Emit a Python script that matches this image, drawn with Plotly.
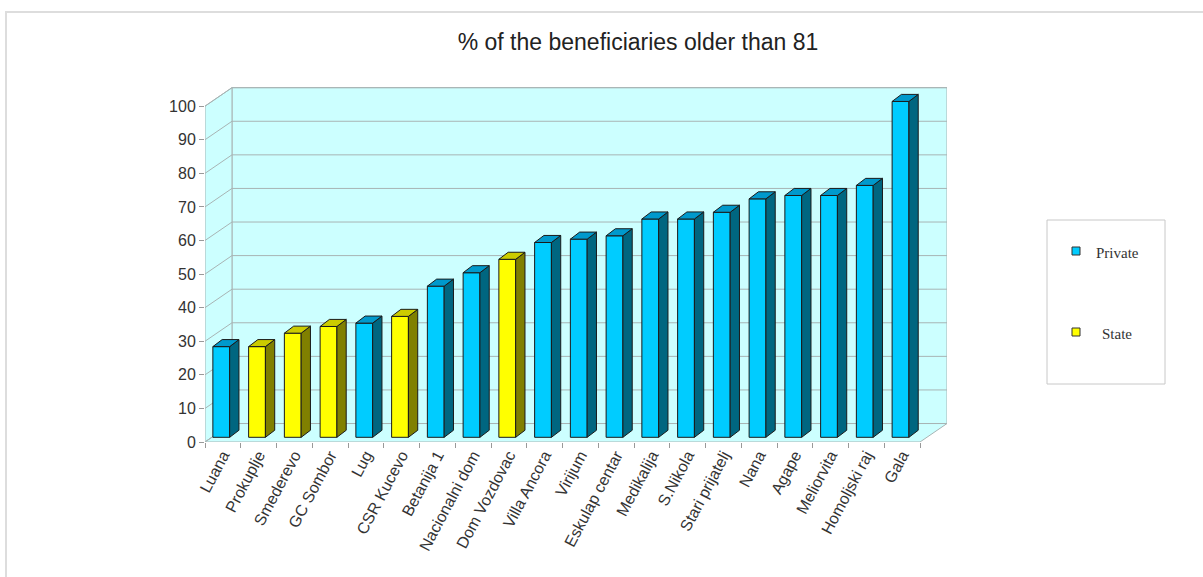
import plotly.graph_objects as go

# ---------------- data ----------------
categories = ["Luana", "Prokuplje", "Smederevo", "GC Sombor", "Lug", "CSR Kucevo",
              "Betanija 1", "Nacionalni dom", "Dom Vozdovac", "Villa Ancora", "Virijum",
              "Eskulap centar", "Medikalija", "S.Nikola", "Stari prijatelj", "Nana",
              "Agape", "Meliorvita", "Homoljski raj", "Gala"]
values = [27, 27, 31, 33, 34, 36, 45, 49, 53, 58, 59, 60, 65, 65, 67, 71, 72, 72, 75, 100]
ownership = ["Private", "State", "State", "State", "Private", "State", "Private", "Private",
             "State", "Private", "Private", "Private", "Private", "Private", "Private",
             "Private", "Private", "Private", "Private", "Private"]
series_names = ["Private", "State"]
y_ticks = [0, 10, 20, 30, 40, 50, 60, 70, 80, 90, 100]
title_text = "% of the beneficiaries older than 81"

# ---------------- style ----------------
face_colors = {
    "Private": {"front": "#00CCFF", "side": "#006680", "top": "#0099CC"},
    "State": {"front": "#FFFF00", "side": "#808000", "top": "#CCCC00"},
}
WALL = "#CCFFFF"
GRID = "#A8B4B4"
EDGE = "#1a1a1a"
SANS = "Liberation Sans, Arial, sans-serif"
SERIF = "Liberation Serif, Times New Roman, serif"

# pseudo-3D geometry (in axis units)
N = len(categories)
DEPTH_X, DEPTH_Y = 0.755, 5.5          # wall depth offset
BAR_L, BAR_R = -0.28, 0.19             # front face relative to category
BAR_DX, BAR_DY = 0.26, 2.1             # bar depth offset
BAR_BASE = 1.4
Y_MAX = 106

# plot area in pixels
W, H = 1203, 577
ML, MR, MT, MB = 205, 256, 86, 135
PW, PH = W - ML - MR, H - MT - MB


def px(x):
    return (x - ML) / PW


def py(y):
    return (H - MB - y) / PH


fig = go.Figure()

# bars: front, side, top faces per series
for s in series_names:
    faces = {"front": ([], []), "side": ([], []), "top": ([], [])}
    for i, (v, o) in enumerate(zip(values, ownership)):
        if o != s:
            continue
        x0, x1 = i + BAR_L, i + BAR_R
        b, t = BAR_BASE, v + BAR_BASE
        polys = {
            "front": [(x0, b), (x1, b), (x1, t), (x0, t), (x0, b)],
            "side": [(x1, b), (x1 + BAR_DX, b + BAR_DY), (x1 + BAR_DX, t + BAR_DY), (x1, t), (x1, b)],
            "top": [(x0, t), (x1, t), (x1 + BAR_DX, t + BAR_DY), (x0 + BAR_DX, t + BAR_DY), (x0, t)],
        }
        for k, pts in polys.items():
            faces[k][0].extend([p[0] for p in pts] + [None])
            faces[k][1].extend([p[1] for p in pts] + [None])
    for k in ["front", "side", "top"]:
        fig.add_trace(go.Scatter(
            x=faces[k][0], y=faces[k][1], mode="lines", fill="toself",
            fillcolor=face_colors[s][k], line=dict(color=EDGE, width=1),
            hoverinfo="skip", showlegend=False, name=s))

# walls & grid (layout shapes, below traces)
shapes = []
xl, xr = -0.5, N - 0.5
wall_line = dict(color=GRID, width=1)
# back wall
shapes.append(dict(type="path", layer="below", line=wall_line, fillcolor=WALL,
                   path=f"M {xl+DEPTH_X},{DEPTH_Y} L {xr+DEPTH_X},{DEPTH_Y} L {xr+DEPTH_X},{100+DEPTH_Y} L {xl+DEPTH_X},{100+DEPTH_Y} Z"))
# left wall
shapes.append(dict(type="path", layer="below", line=wall_line, fillcolor=WALL,
                   path=f"M {xl},0 L {xl},100 L {xl+DEPTH_X},{100+DEPTH_Y} L {xl+DEPTH_X},{DEPTH_Y} Z"))
# floor
shapes.append(dict(type="path", layer="below", line=wall_line, fillcolor=WALL,
                   path=f"M {xl},0 L {xr},0 L {xr+DEPTH_X},{DEPTH_Y} L {xl+DEPTH_X},{DEPTH_Y} Z"))
for v in y_ticks:
    shapes.append(dict(type="line", layer="below", line=wall_line,
                       x0=xl, y0=v, x1=xl + DEPTH_X, y1=v + DEPTH_Y))
    shapes.append(dict(type="line", layer="below", line=wall_line,
                       x0=xl + DEPTH_X, y0=v + DEPTH_Y, x1=xr + DEPTH_X, y1=v + DEPTH_Y))

# outer frame
shapes.append(dict(type="rect", xref="paper", yref="paper", layer="below",
                   x0=px(6), x1=px(1225), y0=py(12), y1=py(600),
                   line=dict(color="#DDDDDD", width=2), fillcolor="rgba(0,0,0,0)"))

# custom legend
shapes.append(dict(type="rect", xref="paper", yref="paper",
                   x0=px(1047), x1=px(1165), y0=py(220), y1=py(384),
                   line=dict(color="#C8C8C8", width=1), fillcolor="white"))
annotations = []
legend_rows = [("Private", 251, 1094), ("State", 332, 1100)]
for name, cy, tx in legend_rows:
    shapes.append(dict(type="rect", xref="paper", yref="paper",
                       x0=px(1072), x1=px(1080), y0=py(cy - 4), y1=py(cy + 4),
                       line=dict(color="#333333", width=1),
                       fillcolor=face_colors[name]["front"]))
    annotations.append(dict(xref="paper", yref="paper", x=px(tx), y=py(cy + 2),
                            text=name, showarrow=False, xanchor="left", yanchor="middle",
                            font=dict(family=SERIF, size=15, color="#333333")))

fig.update_layout(
    width=W, height=H, autosize=False,
    margin=dict(l=ML, r=MR, t=MT, b=MB),
    paper_bgcolor="white", plot_bgcolor="white",
    title=dict(text=title_text, x=638 / W, xanchor="center", y=1 - 42 / H, yanchor="middle",
               font=dict(family=SANS, size=23, color="#222222")),
    showlegend=False,
    shapes=shapes, annotations=annotations,
    xaxis=dict(range=[xl, xr + DEPTH_X], tickmode="array", tickvals=list(range(N)),
               ticktext=categories, ticks="", tickangle=-62, showgrid=False,
               zeroline=False, showline=False, fixedrange=True,
               tickfont=dict(family=SANS, size=16, color="#333333"),
               minor=dict(tickmode="array", tickvals=[i - 0.5 for i in range(N + 1)],
                          ticks="outside", ticklen=5, tickcolor="#999999", showgrid=False)),
    yaxis=dict(range=[0, Y_MAX], tickmode="array", tickvals=y_ticks, ticks="outside",
               ticklen=5, tickcolor="#999999", showgrid=False, zeroline=False,
               showline=False, fixedrange=True,
               tickfont=dict(family=SANS, size=16, color="#333333")),
)

fig.write_html("out.html")
